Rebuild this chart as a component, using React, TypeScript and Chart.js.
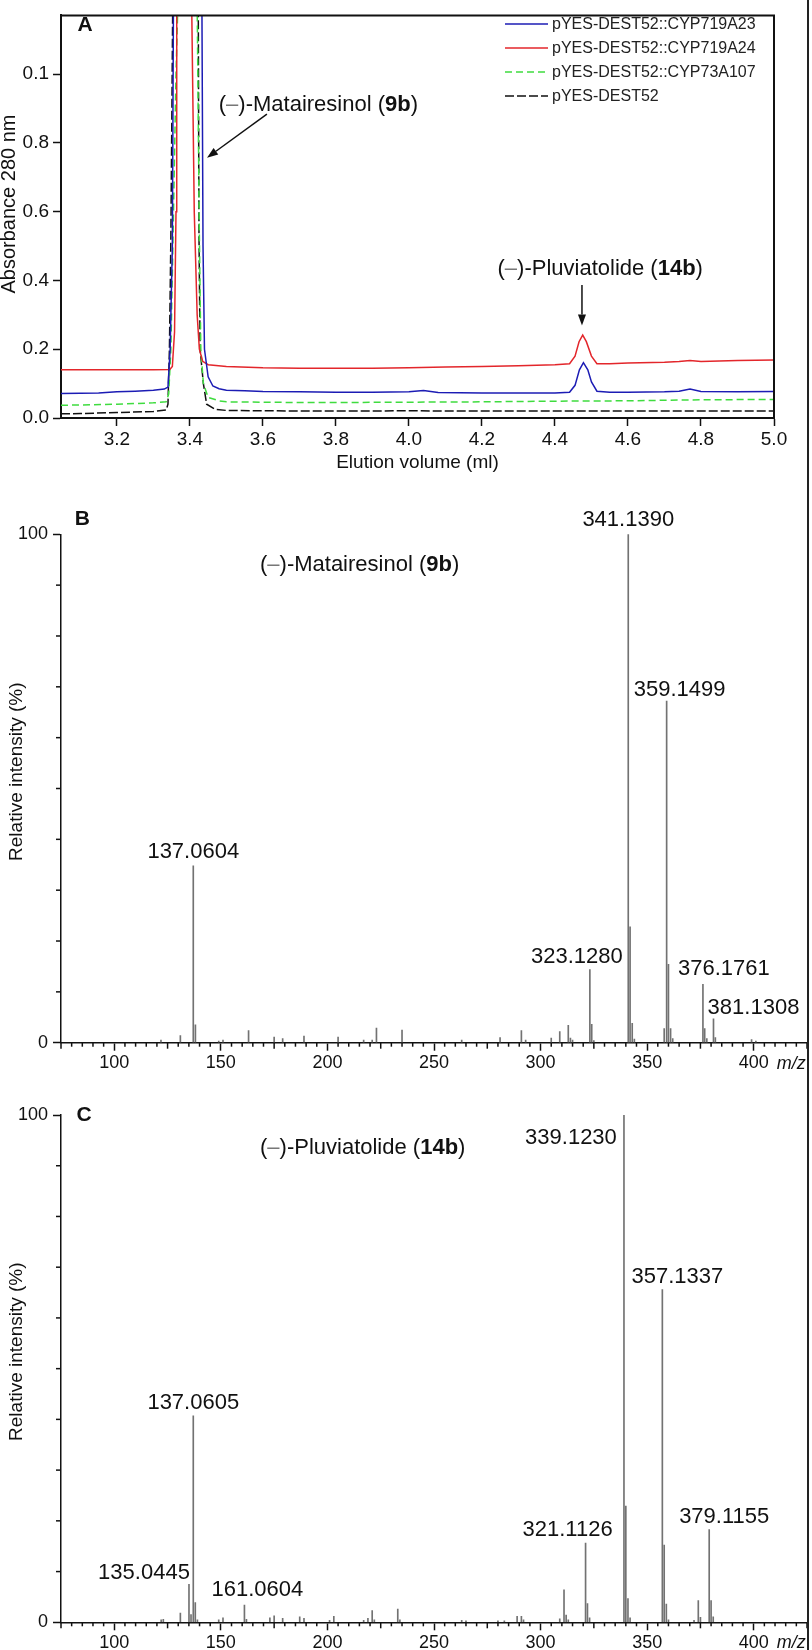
import React, { useEffect, useRef } from 'react';
import { Chart, registerables } from 'chart.js';

Chart.register(...registerables);

const FONT = '"Liberation Sans", Arial, Helvetica, sans-serif';
const INK = '#111111';

// ---------------- Panel A : HPLC traces ----------------
const elutionTicks = [3.2, 3.4, 3.6, 3.8, 4.0, 4.2, 4.4, 4.6, 4.8, 5.0];
const absorbanceTicks = [0, 0.2, 0.4, 0.6, 0.8, 1.0];
const absorbanceTickLabels = ['0.0', '0.2', '0.4', '0.6', '0.8', '0.1'];

const seriesNames = [
  'pYES-DEST52::CYP719A23',
  'pYES-DEST52::CYP719A24',
  'pYES-DEST52::CYP73A107',
  'pYES-DEST52',
];

const cyp719a23Volume = [3.047, 3.10, 3.15, 3.20, 3.25, 3.30, 3.33, 3.340, 3.346, 3.352, 3.355, 3.36, 3.39, 3.43, 3.433, 3.436, 3.44, 3.45, 3.463, 3.48, 3.50, 3.55, 3.60, 3.70, 3.80, 3.90, 4.00, 4.04, 4.08, 4.20, 4.30, 4.40, 4.44, 4.455, 4.467, 4.478, 4.49, 4.50, 4.515, 4.55, 4.60, 4.70, 4.74, 4.77, 4.80, 4.90, 5.00];
const cyp719a23Absorbance = [0.071, 0.072, 0.073, 0.076, 0.078, 0.081, 0.084, 0.090, 0.20, 0.50, 1.2, 2.0, 2.6, 2.0, 1.2, 0.50, 0.20, 0.12, 0.093, 0.085, 0.081, 0.079, 0.077, 0.076, 0.075, 0.075, 0.076, 0.080, 0.074, 0.073, 0.073, 0.073, 0.075, 0.095, 0.14, 0.161, 0.14, 0.105, 0.078, 0.075, 0.075, 0.076, 0.078, 0.084, 0.077, 0.076, 0.077];

const cyp719a24Volume = [3.047, 3.10, 3.20, 3.30, 3.345, 3.352, 3.358, 3.362, 3.364, 3.37, 3.385, 3.40, 3.405, 3.412, 3.42, 3.426, 3.435, 3.45, 3.50, 3.60, 3.70, 3.80, 3.90, 4.00, 4.10, 4.20, 4.30, 4.40, 4.44, 4.455, 4.466, 4.476, 4.486, 4.50, 4.515, 4.55, 4.60, 4.70, 4.74, 4.77, 4.80, 4.90, 5.00];
const cyp719a24Absorbance = [0.140, 0.140, 0.140, 0.140, 0.141, 0.15, 0.25, 0.6, 1.2, 2.0, 2.6, 2.0, 1.2, 0.6, 0.3, 0.2, 0.165, 0.155, 0.150, 0.146, 0.145, 0.145, 0.145, 0.146, 0.148, 0.150, 0.152, 0.155, 0.158, 0.18, 0.222, 0.241, 0.222, 0.18, 0.158, 0.158, 0.160, 0.162, 0.164, 0.167, 0.164, 0.167, 0.169];

const cyp73a107Volume = [3.047, 3.10, 3.20, 3.30, 3.335, 3.342, 3.348, 3.354, 3.362, 3.367, 3.38, 3.395, 3.41, 3.42, 3.426, 3.43, 3.437, 3.45, 3.48, 3.50, 3.60, 3.70, 3.80, 4.00, 4.20, 4.40, 4.60, 4.80, 5.00];
const cyp73a107Absorbance = [0.037, 0.038, 0.040, 0.044, 0.047, 0.07, 0.20, 0.53, 1.0, 1.2, 2.0, 2.6, 2.0, 1.2, 0.53, 0.20, 0.10, 0.06, 0.05, 0.047, 0.046, 0.045, 0.045, 0.046, 0.047, 0.049, 0.050, 0.053, 0.054];

const emptyVectorVolume = [3.047, 3.10, 3.20, 3.30, 3.335, 3.340, 3.344, 3.348, 3.353, 3.37, 3.39, 3.41, 3.423, 3.425, 3.428, 3.437, 3.446, 3.47, 3.50, 3.60, 3.80, 4.00, 4.20, 4.40, 4.60, 4.80, 5.00];
const emptyVectorAbsorbance = [0.012, 0.013, 0.016, 0.019, 0.023, 0.04, 0.20, 0.53, 1.2, 2.0, 2.6, 2.0, 1.2, 0.53, 0.20, 0.10, 0.04, 0.025, 0.022, 0.021, 0.020, 0.021, 0.020, 0.020, 0.020, 0.020, 0.020];

// ---------------- Panels B, C : MS spectra ----------------
const mzTicks = [100, 150, 200, 250, 300, 350, 400];
const intensityTicks = [0, 100];

const matairesinolMz = [121.9, 131, 137.0604, 138.06, 149, 151, 163, 175, 179, 189, 205, 217, 221, 223, 235, 263, 281, 291, 293, 305, 309, 313, 314, 315, 323.128, 324, 325, 341.139, 342, 343, 344, 358, 359.1499, 360, 361, 362, 376.1761, 377, 378, 381.1308, 382, 399, 401];
const matairesinolIntensity = [0.5, 1.4, 34.8, 3.5, 0.3, 0.5, 2.4, 1.1, 0.8, 1.3, 1.1, 0.5, 0.5, 2.9, 2.5, 0.5, 1.0, 2.4, 0.5, 0.9, 2.2, 3.4, 0.9, 0.5, 14.4, 3.6, 0.4, 100, 22.8, 3.8, 0.7, 2.8, 67.2, 15.4, 2.8, 0.8, 11.5, 2.8, 0.8, 4.7, 1.0, 0.6, 0.3];
const matairesinolLabelMz = [137.0604, 341.139, 359.1499, 323.128, 376.1761, 381.1308];

const pluviatolideMz = [122, 123, 131, 135.0445, 136, 137.0605, 138, 139, 149, 151, 161.0604, 162, 173, 175, 179, 187, 189, 201, 203, 217, 219, 221, 222, 233, 234, 263, 265, 280, 283, 289, 291, 292, 309, 311, 312, 313, 321.1126, 322, 323, 339.123, 340, 341, 342, 357.1337, 358, 359, 360, 372, 374, 375, 379.1155, 380, 381];
const pluviatolideIntensity = [0.5, 0.6, 1.8, 7.5, 1.5, 40.7, 3.9, 0.5, 0.5, 0.9, 3.4, 0.6, 0.9, 1.3, 0.8, 1.1, 0.8, 0.4, 1.2, 0.4, 0.8, 2.3, 0.5, 2.6, 0.5, 0.4, 0.3, 0.3, 0.3, 1.2, 1.2, 0.5, 0.7, 6.4, 1.4, 0.5, 15.6, 3.7, 0.9, 100, 22.9, 4.7, 0.9, 65.6, 15.2, 3.6, 0.5, 0.4, 4.3, 1.0, 18.3, 4.3, 1.1];
const pluviatolideLabelMz = [339.123, 357.1337, 137.0605, 135.0445, 161.0604, 321.1126, 379.1155];

// label placement (pixel offsets from the top of each peak), kept apart from data
const matairesinolLabelOffsets = [[0, -14], [0, -14], [13, -11], [-13, -13], [21, -15], [40, -11]];
const pluviatolideLabelOffsets = [[-53, 23], [15, -13], [0, -13], [-45, -11], [13, -15], [-18, -13], [15, -13]];

type Seg = { t: string; b?: boolean; c?: string };

function drawRich(ctx: CanvasRenderingContext2D, segs: Seg[], x: number, y: number, size: number, align: 'left' | 'center') {
  ctx.save();
  ctx.textBaseline = 'middle';
  ctx.textAlign = 'left';
  const fonts = segs.map((s) => `${s.b ? 'bold ' : ''}${size}px ${FONT}`);
  let total = 0;
  const widths = segs.map((s, i) => {
    ctx.font = fonts[i];
    const w = ctx.measureText(s.t).width;
    total += w;
    return w;
  });
  let cx = align === 'center' ? x - total / 2 : x;
  segs.forEach((s, i) => {
    ctx.font = fonts[i];
    ctx.fillStyle = s.c || INK;
    ctx.fillText(s.t, cx, y);
    cx += widths[i];
  });
  ctx.restore();
}

function drawArrow(ctx: CanvasRenderingContext2D, x1: number, y1: number, x2: number, y2: number) {
  const head = 11;
  const half = 4;
  const ang = Math.atan2(y2 - y1, x2 - x1);
  const bx = x2 - head * Math.cos(ang);
  const by = y2 - head * Math.sin(ang);
  ctx.save();
  ctx.strokeStyle = INK;
  ctx.fillStyle = INK;
  ctx.lineWidth = 1.5;
  ctx.beginPath();
  ctx.moveTo(x1, y1);
  ctx.lineTo(bx, by);
  ctx.stroke();
  ctx.beginPath();
  ctx.moveTo(x2, y2);
  ctx.lineTo(bx + half * Math.sin(ang), by - half * Math.cos(ang));
  ctx.lineTo(bx - half * Math.sin(ang), by + half * Math.cos(ang));
  ctx.closePath();
  ctx.fill();
  ctx.restore();
}

function drawRotated(ctx: CanvasRenderingContext2D, text: string, x: number, y: number, size: number) {
  ctx.save();
  ctx.translate(x, y);
  ctx.rotate(-Math.PI / 2);
  ctx.font = `${size}px ${FONT}`;
  ctx.fillStyle = INK;
  ctx.textAlign = 'center';
  ctx.textBaseline = 'middle';
  ctx.fillText(text, 0, 0);
  ctx.restore();
}

const matairesinolSegs: Seg[] = [{ t: '(' }, { t: '–', c: '#777' }, { t: ')-Matairesinol (' }, { t: '9b', b: true }, { t: ')' }];
const pluviatolideSegs: Seg[] = [{ t: '(' }, { t: '–', c: '#777' }, { t: ')-Pluviatolide (' }, { t: '14b', b: true }, { t: ')' }];

function makePanelA(canvas: HTMLCanvasElement) {
  const volumes = [cyp719a23Volume, cyp719a24Volume, cyp73a107Volume, emptyVectorVolume];
  const absorb = [cyp719a23Absorbance, cyp719a24Absorbance, cyp73a107Absorbance, emptyVectorAbsorbance];
  const colors = ['#1c1cb4', '#e3262b', '#3fdc3f', '#111111'];
  const dashes: number[][] = [[], [], [7, 4], [9, 3]];
  const datasets = seriesNames.map((name, k) => ({
    label: name,
    data: volumes[k].map((v, i) => ({ x: v, y: absorb[k][i] })),
    borderColor: colors[k],
    borderDash: dashes[k],
    borderWidth: 1.5,
    pointRadius: 0,
    tension: 0,
    fill: false,
  }));

  const decor = {
    id: 'decorA',
    afterDraw(chart: any) {
      const { ctx, chartArea: ca, scales } = chart;
      const xs = scales.x;
      const ys = scales.y;
      ctx.save();
      ctx.strokeStyle = INK;
      ctx.lineWidth = 2;
      ctx.beginPath();
      ctx.moveTo(ca.left, ca.top);
      ctx.lineTo(ca.right, ca.top);
      ctx.lineTo(ca.right, ca.bottom);
      ctx.stroke();

      ctx.font = `bold 21px ${FONT}`;
      ctx.fillStyle = INK;
      ctx.textAlign = 'center';
      ctx.textBaseline = 'middle';
      ctx.fillText('A', 85, 25);

      // legend
      chart.data.datasets.forEach((ds: any, i: number) => {
        const y = 24 + i * 24;
        ctx.save();
        ctx.strokeStyle = ds.borderColor;
        ctx.lineWidth = 1.5;
        ctx.setLineDash(ds.borderDash || []);
        ctx.beginPath();
        ctx.moveTo(505, y);
        ctx.lineTo(548, y);
        ctx.stroke();
        ctx.restore();
        ctx.font = `16px ${FONT}`;
        ctx.fillStyle = '#222';
        ctx.textAlign = 'left';
        ctx.textBaseline = 'middle';
        ctx.fillText(ds.label, 552, y + 1);
      });

      // annotations
      drawRich(ctx, matairesinolSegs, xs.getPixelForValue(3.752), ys.getPixelForValue(0.912), 22, 'center');
      drawArrow(ctx, xs.getPixelForValue(3.611), ys.getPixelForValue(0.884), xs.getPixelForValue(3.447), ys.getPixelForValue(0.757));
      drawRich(ctx, pluviatolideSegs, xs.getPixelForValue(4.524), ys.getPixelForValue(0.435), 22, 'center');
      drawArrow(ctx, xs.getPixelForValue(4.474), ys.getPixelForValue(0.387), xs.getPixelForValue(4.474), ys.getPixelForValue(0.269));

      // axis titles
      ctx.font = `19px ${FONT}`;
      ctx.fillStyle = INK;
      ctx.textAlign = 'center';
      ctx.textBaseline = 'middle';
      ctx.fillText('Elution volume (ml)', (ca.left + ca.right) / 2, 463);
      drawRotated(ctx, 'Absorbance 280 nm', 9, 204, 20);
      ctx.restore();
    },
  };

  return new Chart(canvas, {
    type: 'line',
    data: { datasets },
    options: {
      animation: false,
      responsive: false,
      devicePixelRatio: 1,
      layout: { padding: { left: 0, top: 1, right: 38, bottom: 0 } },
      plugins: { legend: { display: false }, tooltip: { enabled: false } },
      scales: {
        x: {
          type: 'linear',
          min: 3.047,
          max: 5.0,
          afterBuildTicks: (s: any) => { s.ticks = elutionTicks.map((v) => ({ value: v })); },
          afterFit: (s: any) => { s.height = 62; },
          ticks: { autoSkip: false, maxRotation: 0, padding: 2, color: INK, font: { family: FONT, size: 19 }, callback: (v: any) => Number(v).toFixed(1) },
          grid: { drawOnChartArea: false, tickLength: 8, tickWidth: 1.5, tickColor: INK },
          border: { display: true, color: INK, width: 2 },
        },
        y: {
          type: 'linear',
          min: 0,
          max: 1.171,
          afterBuildTicks: (s: any) => { s.ticks = absorbanceTicks.map((v) => ({ value: v })); },
          afterFit: (s: any) => { s.width = 61; },
          ticks: { padding: 4, color: INK, font: { family: FONT, size: 19 }, callback: (_v: any, i: number) => absorbanceTickLabels[i] },
          grid: { drawOnChartArea: false, tickLength: 8, tickWidth: 1.5, tickColor: INK },
          border: { display: true, color: INK, width: 2 },
        },
      },
    } as any,
    plugins: [decor as any],
  });
}

type SpecCfg = {
  mz: number[];
  intensity: number[];
  labelMz: number[];
  labelOffsets: number[][];
  height: number;
  plotTop: number;
  plotBottom: number;
  letter: string;
  letterPos: number[];
  compound: Seg[];
  compoundPos: number[];
  titleY: number;
};

function makeSpectrum(canvas: HTMLCanvasElement, cfg: SpecCfg) {
  const decor = {
    id: 'decorSpec',
    afterDraw(chart: any) {
      const { ctx, chartArea: ca, scales } = chart;
      const xs = scales.x;
      const ys = scales.y;
      ctx.save();
      ctx.strokeStyle = INK;
      ctx.lineWidth = 1.5;
      // minor x ticks
      for (let v = 75; v <= 425; v += 5) {
        if (v % 50 === 0) continue;
        const len = v % 25 === 0 ? 6 : 4;
        const x = xs.getPixelForValue(v);
        ctx.beginPath();
        ctx.moveTo(x, ca.bottom);
        ctx.lineTo(x, ca.bottom + len);
        ctx.stroke();
      }
      // minor y ticks
      for (let v = 10; v < 100; v += 10) {
        const y = ys.getPixelForValue(v);
        ctx.beginPath();
        ctx.moveTo(ca.left - 5, y);
        ctx.lineTo(ca.left, y);
        ctx.stroke();
      }
      // panel letter
      ctx.font = `bold 21px ${FONT}`;
      ctx.fillStyle = INK;
      ctx.textAlign = 'center';
      ctx.textBaseline = 'middle';
      ctx.fillText(cfg.letter, cfg.letterPos[0], cfg.letterPos[1]);
      // compound name
      drawRich(ctx, cfg.compound, cfg.compoundPos[0], cfg.compoundPos[1], 22, 'left');
      // peak labels
      cfg.labelMz.forEach((m, i) => {
        const idx = cfg.mz.indexOf(m);
        const inten = cfg.intensity[idx];
        const x = xs.getPixelForValue(m) + cfg.labelOffsets[i][0];
        const y = ys.getPixelForValue(inten) + cfg.labelOffsets[i][1];
        ctx.font = `22px ${FONT}`;
        ctx.fillStyle = INK;
        ctx.textAlign = 'center';
        ctx.textBaseline = 'middle';
        ctx.fillText(m.toFixed(4), x, y);
      });
      // m/z
      ctx.font = `italic 18px ${FONT}`;
      ctx.textAlign = 'left';
      ctx.fillText('m/z', xs.getPixelForValue(400) + 23, ca.bottom + 21);
      // y title
      drawRotated(ctx, 'Relative intensity (%)', 17, cfg.titleY, 19);
      ctx.restore();
    },
  };

  return new Chart(canvas, {
    type: 'bar',
    data: {
      datasets: [{
        data: cfg.mz.map((m, i) => ({ x: m, y: cfg.intensity[i] })),
        backgroundColor: '#727272',
        borderWidth: 0,
        barThickness: 1,
        grouped: false,
      }],
    },
    options: {
      animation: false,
      responsive: false,
      devicePixelRatio: 1,
      layout: { padding: { left: 0, top: cfg.plotTop, right: 5, bottom: 0 } },
      plugins: { legend: { display: false }, tooltip: { enabled: false } },
      scales: {
        x: {
          type: 'linear',
          min: 75,
          max: 425,
          offset: false,
          afterBuildTicks: (s: any) => { s.ticks = mzTicks.map((v) => ({ value: v })); },
          afterFit: (s: any) => { s.height = cfg.height - cfg.plotBottom; },
          ticks: { autoSkip: false, maxRotation: 0, padding: 2, color: INK, font: { family: FONT, size: 18 }, callback: (v: any) => String(v) },
          grid: { drawOnChartArea: false, offset: false, tickLength: 8, tickWidth: 1.5, tickColor: INK },
          border: { display: true, color: INK, width: 1.5 },
        },
        y: {
          type: 'linear',
          min: 0,
          max: 100,
          afterBuildTicks: (s: any) => { s.ticks = intensityTicks.map((v) => ({ value: v })); },
          afterFit: (s: any) => { s.width = 61; },
          ticks: { padding: 5, color: INK, font: { family: FONT, size: 18 }, callback: (v: any) => String(v) },
          grid: { drawOnChartArea: false, tickLength: 8, tickWidth: 1.5, tickColor: INK },
          border: { display: true, color: INK, width: 1.5 },
        },
      },
    } as any,
    plugins: [decor as any],
  });
}

function ChartCanvas({ top, height, make }: { top: number; height: number; make: (c: HTMLCanvasElement) => Chart }) {
  const ref = useRef<HTMLCanvasElement>(null);
  useEffect(() => {
    const chart = make(ref.current as HTMLCanvasElement);
    return () => chart.destroy();
  }, []);
  return (
    <canvas
      ref={ref}
      width={812}
      height={height}
      style={{ position: 'absolute', left: 0, top, width: 812, height, display: 'block' }}
    />
  );
}

export default function App() {
  const cfgB: SpecCfg = {
    mz: matairesinolMz,
    intensity: matairesinolIntensity,
    labelMz: matairesinolLabelMz,
    labelOffsets: matairesinolLabelOffsets,
    height: 600,
    plotTop: 54.3,
    plotBottom: 562.7,
    letter: 'B',
    letterPos: [82.3, 39],
    compound: matairesinolSegs,
    compoundPos: [260, 85],
    titleY: 291.7,
  };
  const cfgC: SpecCfg = {
    mz: pluviatolideMz,
    intensity: pluviatolideIntensity,
    labelMz: pluviatolideLabelMz,
    labelOffsets: pluviatolideLabelOffsets,
    height: 570,
    plotTop: 35,
    plotBottom: 542.3,
    letter: 'C',
    letterPos: [84, 35],
    compound: pluviatolideSegs,
    compoundPos: [260, 68.3],
    titleY: 271.7,
  };
  return (
    <div style={{ position: 'absolute', left: 0, top: 0, width: 812, height: 1650, background: '#fff', overflow: 'hidden' }}>
      <ChartCanvas top={0} height={480} make={makePanelA} />
      <ChartCanvas top={480} height={600} make={(c) => makeSpectrum(c, cfgB)} />
      <ChartCanvas top={1080} height={570} make={(c) => makeSpectrum(c, cfgC)} />
      <div style={{ position: 'absolute', left: 807, top: 0, width: 2, height: 1650, background: '#222' }} />
    </div>
  );
}
